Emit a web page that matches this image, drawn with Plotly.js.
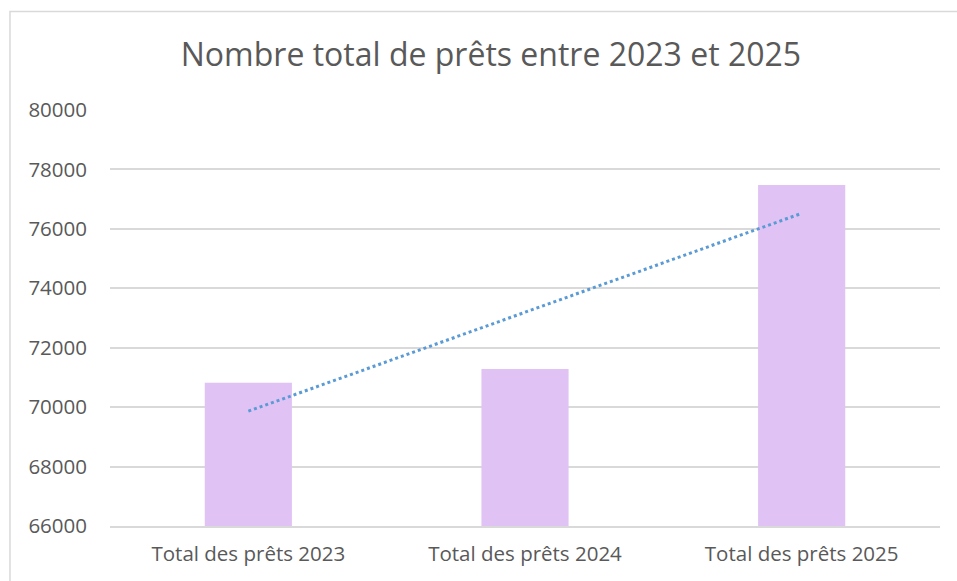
<!DOCTYPE html>
<html>
<head>
<meta charset="utf-8">
<script src="https://cdn.plot.ly/plotly-3.0.1.min.js"></script>
<style>
  html, body { margin: 0; padding: 0; background: #ffffff; }
  #chart { width: 957px; height: 581px; }
</style>
</head>
<body>
<div id="chart"></div>
<script>
// Data
const categories = ["Total des prêts 2023", "Total des prêts 2024", "Total des prêts 2025"];
const totalLoans = [70820, 71280, 77480];
// Linear trendline values (as drawn, at each category)
const trendValues = [69863, 73193, 76523];
const yTickValues = [66000, 68000, 70000, 72000, 74000, 76000, 78000, 80000];

const textColor = "#595959";
const gridColor = "#D9D9D9";
const fontFamily = "'Open Sans', 'Noto Sans', sans-serif";

const traces = [
  {
    type: "bar",
    x: categories,
    y: totalLoans,
    marker: { color: "#E0C3F4" },
    hoverinfo: "x+y",
    showlegend: false
  },
  {
    type: "scatter",
    mode: "lines",
    x: categories,
    y: trendValues,
    line: { color: "#5B9BD5", width: 3, dash: "dot" },
    hoverinfo: "skip",
    showlegend: false
  }
];

const layout = {
  width: 957,
  height: 581,
  paper_bgcolor: "#ffffff",
  plot_bgcolor: "#ffffff",
  margin: { l: 110, r: 17, t: 110, b: 55 },
  bargap: 0.685,
  font: { family: fontFamily, color: textColor },
  title: {
    text: "Nombre total de prêts entre 2023 et 2025",
    font: { family: fontFamily, size: 32, color: textColor },
    x: 0.513, xref: "container", xanchor: "center",
    y: 0.905, yref: "container", yanchor: "middle"
  },
  xaxis: {
    type: "category",
    showgrid: false,
    showline: true,
    linecolor: gridColor,
    linewidth: 2,
    ticks: "",
    tickfont: { family: fontFamily, size: 20.5, color: textColor },
    ticklabelstandoff: 8,
    zeroline: false
  },
  yaxis: {
    range: [66000, 80000],
    tickvals: yTickValues,
    tickformat: "d",
    showgrid: true,
    gridcolor: gridColor,
    gridwidth: 2,
    zeroline: false,
    showline: false,
    ticks: "",
    tickfont: { family: fontFamily, size: 20.5, color: textColor },
    ticklabelstandoff: 22
  },
  shapes: [
    {
      type: "rect",
      xref: "paper", yref: "paper",
      x0: -0.1205, x1: 1.03,
      y0: -0.2, y1: 1.237,
      line: { color: gridColor, width: 1.5 },
      fillcolor: "rgba(0,0,0,0)",
      layer: "below"
    }
  ]
};

Plotly.newPlot("chart", traces, layout, { displayModeBar: false, staticPlot: true });
</script>
</body>
</html>
